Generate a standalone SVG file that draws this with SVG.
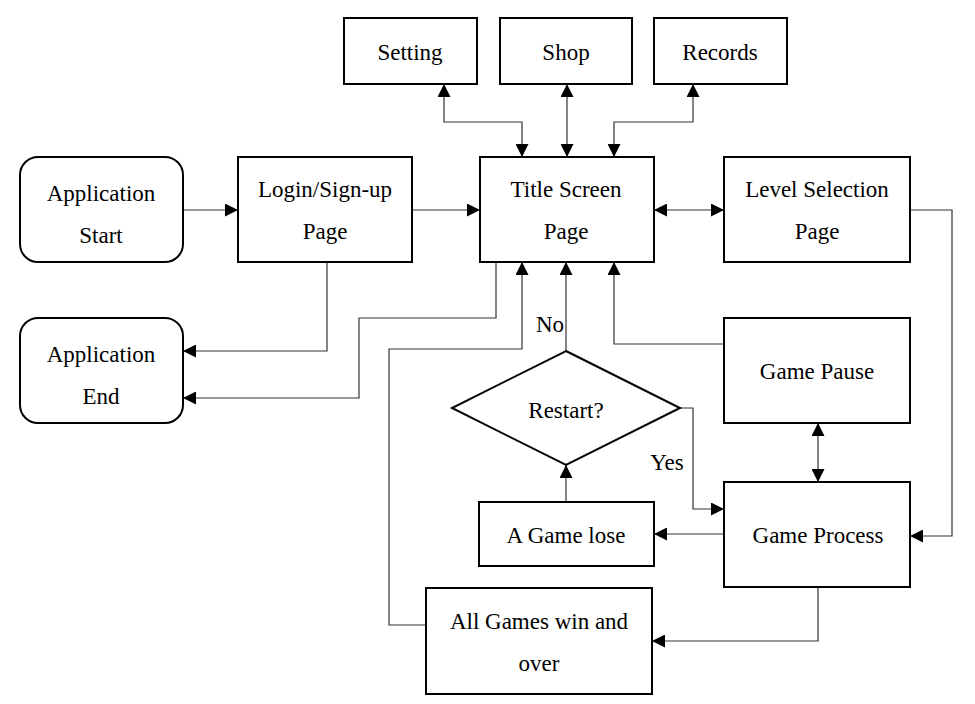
<svg xmlns="http://www.w3.org/2000/svg" width="975" height="704" viewBox="0 0 975 704" font-family="'Liberation Serif', 'Times New Roman', serif">
<style>
.box{fill:#fff;stroke:#000;stroke-width:2}
.t{font-size:23px;fill:#000;text-anchor:middle}
.c{fill:none;stroke:#333;stroke-width:1.2}
</style>
<defs>
<marker id="a" viewBox="0 0 10 10" refX="10" refY="5" markerWidth="13" markerHeight="13" markerUnits="userSpaceOnUse" orient="auto-start-reverse">
<path d="M0,0L10,5L0,10Z" fill="#000"/>
</marker>
</defs>
<rect width="975" height="704" fill="#fff"/>
<g id="connectors">
<path class="c" d="M444,84V122H522V157" marker-start="url(#a)" marker-end="url(#a)"/>
<path class="c" d="M567,84V157" marker-start="url(#a)" marker-end="url(#a)"/>
<path class="c" d="M693,84V122H614V157" marker-start="url(#a)" marker-end="url(#a)"/>
<path class="c" d="M183,210H238" marker-end="url(#a)"/>
<path class="c" d="M412,210H480" marker-end="url(#a)"/>
<path class="c" d="M654,210H724" marker-start="url(#a)" marker-end="url(#a)"/>
<path class="c" d="M327,262V351H183" marker-end="url(#a)"/>
<path class="c" d="M496,262V318H359V398H183" marker-end="url(#a)"/>
<path class="c" d="M426,625H389V349H522V262" marker-end="url(#a)"/>
<path class="c" d="M566,351V262" marker-end="url(#a)"/>
<path class="c" d="M724,344H614V262" marker-end="url(#a)"/>
<path class="c" d="M910,210H952V536H910" marker-end="url(#a)"/>
<path class="c" d="M818,423V482" marker-start="url(#a)" marker-end="url(#a)"/>
<path class="c" d="M680,408H693V509H724" marker-end="url(#a)"/>
<path class="c" d="M724,534H654" marker-end="url(#a)"/>
<path class="c" d="M566,502V465" marker-end="url(#a)"/>
<path class="c" d="M818,587V641H652" marker-end="url(#a)"/>
<text class="t" x="550" y="332">No</text>
<text class="t" x="667" y="470">Yes</text>
</g>
<g id="setting"><rect class="box" x="344" y="18" width="133" height="66"/><text class="t" x="410" y="60">Setting</text></g>
<g id="shop"><rect class="box" x="500" y="18" width="132" height="66"/><text class="t" x="566" y="60">Shop</text></g>
<g id="records"><rect class="box" x="654" y="18" width="133" height="66"/><text class="t" x="720" y="60">Records</text></g>
<g id="app-start"><rect class="box" x="20" y="157" width="163" height="105" rx="18"/><text class="t" x="101" y="201">Application</text><text class="t" x="101" y="243">Start</text></g>
<g id="login"><rect class="box" x="238" y="157" width="174" height="105"/><text class="t" x="325" y="197">Login/Sign-up</text><text class="t" x="325" y="239">Page</text></g>
<g id="title"><rect class="box" x="480" y="157" width="174" height="105"/><text class="t" x="566" y="197">Title Screen</text><text class="t" x="566" y="239">Page</text></g>
<g id="level"><rect class="box" x="724" y="157" width="186" height="105"/><text class="t" x="817" y="197">Level Selection</text><text class="t" x="817" y="239">Page</text></g>
<g id="app-end"><rect class="box" x="20" y="318" width="163" height="105" rx="18"/><text class="t" x="101" y="362">Application</text><text class="t" x="101" y="404">End</text></g>
<g id="pause"><rect class="box" x="724" y="318" width="186" height="105"/><text class="t" x="817" y="379">Game Pause</text></g>
<g id="restart"><path class="box" d="M566,351L680,408L566,465L452,408Z"/><text class="t" x="566" y="418">Restart?</text></g>
<g id="lose"><rect class="box" x="479" y="502" width="175" height="64"/><text class="t" x="566" y="543">A Game lose</text></g>
<g id="process"><rect class="box" x="724" y="482" width="186" height="105"/><text class="t" x="818" y="543">Game Process</text></g>
<g id="win"><rect class="box" x="426" y="588" width="226" height="106"/><text class="t" x="539" y="629">All Games win and</text><text class="t" x="539" y="671">over</text></g>
</svg>
